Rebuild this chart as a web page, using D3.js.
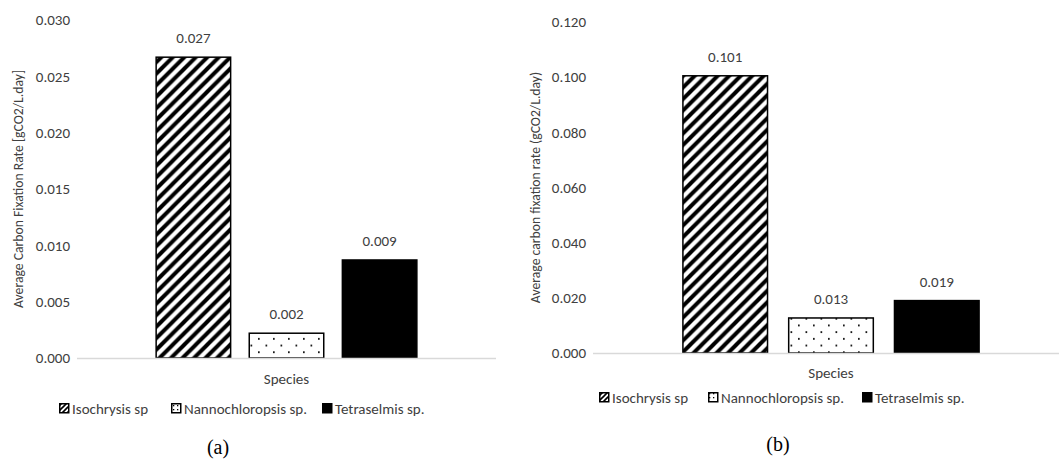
<!DOCTYPE html>
<html>
<head>
<meta charset="utf-8">
<script src="https://cdn.jsdelivr.net/npm/d3@7"></script>
<style>
  html, body { margin: 0; padding: 0; background: #fff; }
  svg { display: block; }
  text { font-family: Carlito, Calibri, "Open Sans", sans-serif; fill: #404040; }
  .cap { font-family: "Liberation Serif", "Times New Roman", serif; fill: #000; }
</style>
</head>
<body>
<svg id="chart" width="1059" height="465"></svg>
<script>
// Species shown in both panels
const species = ["Isochrysis sp", "Nannochloropsis sp.", "Tetraselmis sp."];
const category = ["Species"];

// Panel (a): average carbon fixation rate [gCO2/L.day]
const valuesA = [0.0267, 0.0022, 0.0087];
const ticksA = [0, 0.005, 0.010, 0.015, 0.020, 0.025, 0.030];

// Panel (b): average carbon fixation rate (gCO2/L.day)
const valuesB = [0.1005, 0.0127, 0.0190];
const ticksB = [0, 0.020, 0.040, 0.060, 0.080, 0.100, 0.120];

const svg = d3.select("#chart");
const defs = svg.append("defs");

// Wide upward diagonal stripes
const diag = defs.append("pattern")
  .attr("id", "diag").attr("patternUnits", "userSpaceOnUse")
  .attr("width", 11.5).attr("height", 11.5);
diag.append("rect").attr("width", 11.5).attr("height", 11.5).attr("fill", "#fff");
diag.append("path")
  .attr("d", "M-3,3 L3,-3 M0,11.5 L11.5,0 M8.5,14.5 L14.5,8.5")
  .attr("stroke", "#000").attr("stroke-width", 4);

// Sparse staggered dots
const dots = defs.append("pattern")
  .attr("id", "dots").attr("patternUnits", "userSpaceOnUse")
  .attr("width", 15).attr("height", 13.4);
dots.append("rect").attr("width", 15).attr("height", 13.4).attr("fill", "#fff");
dots.append("rect").attr("x", 3).attr("y", 3).attr("width", 1.7).attr("height", 1.7).attr("fill", "#000");
dots.append("rect").attr("x", 10.5).attr("y", 9.7).attr("width", 1.7).attr("height", 1.7).attr("fill", "#000");

// Small legend versions of the fills
const diagS = defs.append("pattern")
  .attr("id", "diagS").attr("patternUnits", "userSpaceOnUse")
  .attr("width", 5).attr("height", 5);
diagS.append("rect").attr("width", 5).attr("height", 5).attr("fill", "#fff");
diagS.append("path").attr("d", "M-1,1 L1,-1 M0,5 L5,0 M4,6 L6,4")
  .attr("stroke", "#000").attr("stroke-width", 1.6);

const dotsS = defs.append("pattern")
  .attr("id", "dotsS").attr("patternUnits", "userSpaceOnUse")
  .attr("width", 4).attr("height", 4);
dotsS.append("rect").attr("width", 4).attr("height", 4).attr("fill", "#fff");
dotsS.append("rect").attr("x", 1).attr("y", 1).attr("width", 1.3).attr("height", 1.3).attr("fill", "#000");

const fills = ["url(#diag)", "url(#dots)", "#000"];
const legendFills = ["url(#diagS)", "url(#dotsS)", "#000"];

function panel(cfg) {
  const g = svg.append("g");
  const y = d3.scaleLinear().domain([0, cfg.ticks[cfg.ticks.length - 1]])
    .range([cfg.bottom, cfg.top]);
  const x0 = d3.scaleBand().domain(category).range([cfg.left, cfg.right]).padding(0.2);
  const x1 = d3.scaleBand().domain(species).range([0, x0.bandwidth()])
    .paddingInner(0.2).paddingOuter(0.1);

  // value axis: labels only
  const ax = g.append("g")
    .attr("transform", `translate(${cfg.left - 4},0)`)
    .call(d3.axisLeft(y).tickValues(cfg.ticks).tickSize(0).tickPadding(3)
      .tickFormat(d3.format(".3f")));
  ax.select(".domain").remove();
  ax.selectAll("text")
    .style("font-size", "15px")
    .style("font-family", "Carlito, Calibri, 'Open Sans', sans-serif")
    .attr("fill", "#404040");

  // bars
  const gx = x0(category[0]);
  g.selectAll("rect.bar").data(cfg.values).join("rect")
    .attr("class", "bar")
    .attr("x", (d, i) => gx + x1(species[i]))
    .attr("y", d => y(d))
    .attr("width", x1.bandwidth())
    .attr("height", d => y(0) - y(d))
    .attr("fill", (d, i) => fills[i])
    .attr("stroke", "#000").attr("stroke-width", 1.5);

  // category axis line
  g.append("line")
    .attr("x1", cfg.left).attr("x2", Math.min(cfg.right, 1059))
    .attr("y1", y(0) + 0.5).attr("y2", y(0) + 0.5)
    .attr("stroke", "#d9d9d9").attr("stroke-width", 1.5);

  // data labels
  g.selectAll("text.lbl").data(cfg.values).join("text")
    .attr("class", "lbl")
    .attr("x", (d, i) => gx + x1(species[i]) + x1.bandwidth() / 2)
    .attr("y", d => y(d) - 14)
    .attr("text-anchor", "middle")
    .style("font-size", "15px")
    .text(d => d.toFixed(3));

  // axis titles
  g.append("text")
    .attr("transform", `translate(${cfg.titleX},${(cfg.top + cfg.bottom) / 2}) rotate(-90)`)
    .attr("text-anchor", "middle")
    .style("font-size", "13.7px")
    .text(cfg.yTitle);
  g.append("text")
    .attr("x", (cfg.left + cfg.right) / 2).attr("y", cfg.speciesY)
    .attr("text-anchor", "middle")
    .style("font-size", "15px")
    .text(category[0]);

  // legend
  const lg = g.append("g");
  species.forEach((s, i) => {
    const lx = cfg.legendX[i];
    lg.append("rect")
      .attr("x", lx + 0.75).attr("y", cfg.legendY - 10.25)
      .attr("width", 9).attr("height", 9)
      .attr("fill", legendFills[i])
      .attr("stroke", "#000").attr("stroke-width", 1.5);
    lg.append("text")
      .attr("x", lx + 13).attr("y", cfg.legendY)
      .style("font-size", "15px")
      .text(s);
  });

  // panel caption
  g.append("text").attr("class", "cap")
    .attr("x", cfg.capX).attr("y", cfg.capY)
    .attr("text-anchor", "middle")
    .style("font-size", "20px")
    .text(cfg.caption);
}

panel({
  values: valuesA, ticks: ticksA,
  left: 77, right: 496, top: 20, bottom: 358,
  titleX: 23, yTitle: "Average Carbon Fixation Rate [gCO2/L.day]",
  speciesY: 384, legendY: 414, legendX: [59, 171, 322],
  caption: "(a)", capX: 218, capY: 454
});

panel({
  values: valuesB, ticks: ticksB,
  left: 593, right: 1069, top: 22, bottom: 353,
  titleX: 540, yTitle: "Average carbon fixation rate (gCO2/L.day)",
  speciesY: 378, legendY: 403, legendX: [599, 708, 862],
  caption: "(b)", capX: 778, capY: 451
});
</script>
</body>
</html>
